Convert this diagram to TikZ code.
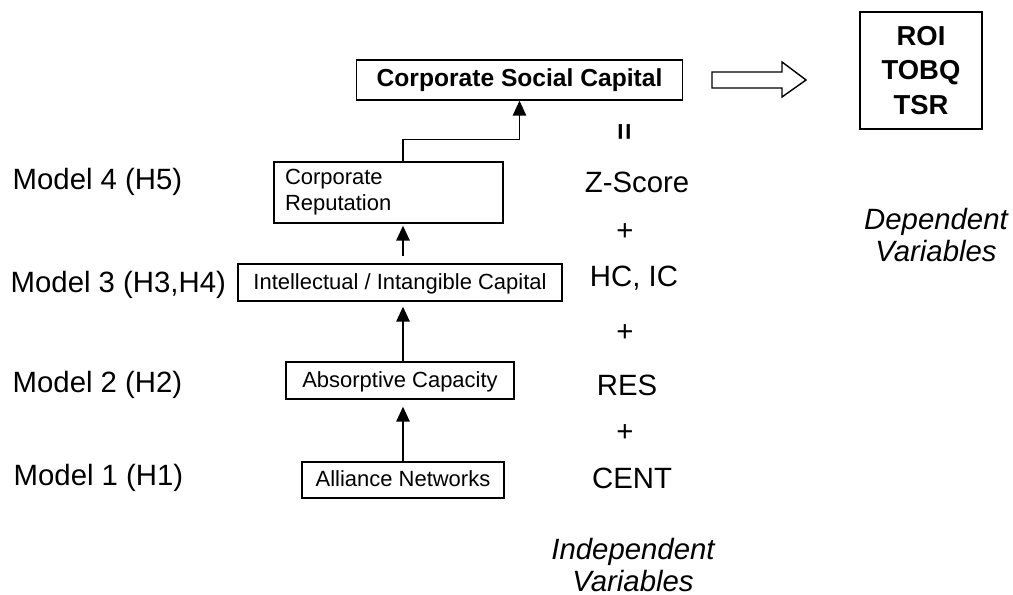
\documentclass[tikz,border=0pt]{standalone}
\usepackage{fontspec}
\setmainfont{Liberation Sans}
\usetikzlibrary{positioning,arrows.meta,calc}
\tikzset{
        >={Triangle[length=0.3cm,width=0.27cm]}, % filled arrow heads
        box/.style={draw, line width=0.8pt, inner sep=0pt, text height=0.9em, text depth=0.15em, font=\fontsize{12.5}{15}\selectfont}, % boxes of the chain
        lbl/.style={inner sep=0pt, font=\fontsize{16.7}{19}\selectfont}, % model names and variables
        ital/.style={lbl, align=center, font=\fontsize{16.7}{18}\selectfont\itshape}, % variable group captions
}

\begin{document}
\begin{tikzpicture}[line width=0.8pt]
\useasboundingbox (0,0) rectangle (20.26,-11.9);

% the chain of boxes
\node[box, minimum width=6.52cm, minimum height=0.8cm, font=\fontsize{14}{17}\selectfont\bfseries] (csc) at (10.39,-1.6) {Corporate Social Capital};
\node[draw, inner sep=0pt, minimum width=2.44cm, minimum height=2.34cm, align=center, font=\fontsize{15.6}{19.4}\selectfont\bfseries] (roi) at (18.42,-1.41) {ROI\\TOBQ\\TSR};
\node[draw, inner sep=0pt, minimum width=4.58cm, minimum height=1.22cm, text width=4.14cm, align=left, font=\fontsize{12.5}{14.7}\selectfont] (rep) at (7.77,-3.85) {Corporate\\Reputation};
\node[box, minimum width=6.48cm, minimum height=0.74cm] (ic) at (8,-5.65) {Intellectual / Intangible Capital};
\node[box, minimum width=4.56cm, minimum height=0.74cm] (acap) at (8,-7.61) {Absorptive Capacity};
\node[box, minimum width=4.04cm, minimum height=0.72cm] (anet) at (8.06,-9.6) {Alliance Networks};

\draw[->, shorten >=0.14cm] (anet.north) -- (anet.north |- acap.south);
\draw[->, shorten >=0.1cm] (acap.north -| anet.north) -- (anet.north |- ic.south);
\draw[->, shorten <=0.14cm, shorten >=0.04cm] (ic.north -| anet.north) -- (anet.north |- rep.south);
\draw[->] (rep.north -| anet.north) -- ++(0,0.44) -| (csc.south);

% hollow arrow to the dependent variables
\draw (14.24,-1.44) -- (15.64,-1.44) -- (15.64,-1.24) -- (16.12,-1.6) -- (15.64,-1.94) -- (15.64,-1.76) -- (14.24,-1.76) -- cycle;

% models on the left
\node[lbl, anchor=west] (m4) at (0.24,-3.64) {Model 4 (H5)};
\node[lbl, anchor=west] (m3) at (0.2,-5.7) {Model 3 (H3,H4)};
\node[lbl, anchor=west] (m2) at (0.24,-7.7) {Model 2 (H2)};
\node[lbl, anchor=west] (m1) at (0.26,-9.56) {Model 1 (H1)};

% variables on the right
\node[lbl, font=\fontsize{16.7}{19}\selectfont\bfseries] (eq) at (12.54,-2.64) {\rotatebox{90}{=}};
\node[lbl] (zs) at (12.74,-3.64) {Z-Score};
\node[lbl] (p3) at (12.5,-4.64) {+};
\node[lbl] (hc) at (12.68,-5.56) {HC, IC};
\node[lbl] (p2) at (12.5,-6.66) {+};
\node[lbl] (res) at (12.54,-7.7) {RES};
\node[lbl] (p1) at (12.5,-8.66) {+};
\node[lbl] (cent) at (12.64,-9.56) {CENT};
\node[ital] (indep) at (12.66,-11.3) {Independent\\Variables};
\node[ital] (dep) at (18.72,-4.7) {Dependent\\Variables};

\end{tikzpicture}
\end{document}
